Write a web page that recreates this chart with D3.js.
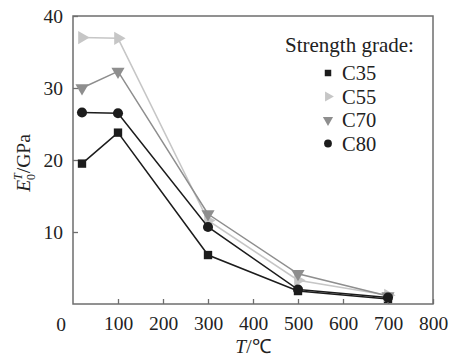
<!DOCTYPE html>
<html>
<head>
<meta charset="utf-8">
<script src="https://cdn.jsdelivr.net/npm/d3@7"></script>
</head>
<body style="margin:0;background:#fff">
<svg id="chart" width="450" height="358" font-family="Liberation Serif">
  <text id="legend-title" x="285" y="52" font-size="21" font-family="Liberation Serif" fill="#222">Strength grade:</text>
  <text id="x-title" x="253" y="353" font-size="19.5" font-family="Liberation Serif" fill="#222" text-anchor="middle"><tspan font-style="italic">T</tspan><tspan>/℃</tspan></text>
  <text id="y-title" transform="translate(30,163) rotate(-90)" font-size="19.5" font-family="Liberation Serif" fill="#222" text-anchor="middle"><tspan font-style="italic">E</tspan><tspan font-size="12" dy="5">0</tspan><tspan font-size="12" font-style="italic" dy="-13" dx="-6">T</tspan><tspan dy="8">/GPa</tspan></text>
</svg>
<script>
// Temperatures (°C) and elastic modulus E0T (GPa) per strength grade
const temps = [20, 100, 300, 500, 700];
const c35 = [19.5, 23.8, 6.8, 1.8, 0.7];
const c55 = [37.0, 36.9, 11.6, 3.3, 1.2];
const c70 = [30.0, 32.3, 12.5, 4.2, 1.1];
const c80 = [26.6, 26.5, 10.7, 2.0, 0.9];
const seriesNames = ["C35", "C55", "C70", "C80"];
const xTicks = [100, 200, 300, 400, 500, 600, 700, 800];
const yTicks = [10, 20, 30, 40];

const FONT = "Liberation Serif";
const TEXT_COLOR = "#222";
const svg = d3.select("#chart");
const mLeft = 73, mRight = 433, mTop = 16, mBottom = 304;

const x = d3.scaleLinear().domain([0, 800]).range([mLeft, mRight]);
const y = d3.scaleLinear().domain([0, 40]).range([mBottom, mTop]);

const axisColor = "#6e6e6e";

function label(sel, size) {
  return sel.attr("font-family", FONT).attr("font-size", size).attr("fill", TEXT_COLOR);
}

// frame
svg.insert("rect", ":first-child")
  .attr("x", mLeft).attr("y", mTop)
  .attr("width", mRight - mLeft).attr("height", mBottom - mTop)
  .attr("fill", "none").attr("stroke", axisColor).attr("stroke-width", 1.5);

// x axis (inward ticks)
const gx = svg.append("g").attr("transform", `translate(0,${mBottom})`)
  .call(d3.axisBottom(x).tickValues(xTicks).tickSizeInner(-5).tickSizeOuter(0).tickPadding(12));
gx.attr("font-family", FONT).attr("font-size", 19.5);
gx.select(".domain").remove();
gx.selectAll("line").attr("stroke", axisColor).attr("stroke-width", 1.3);
label(gx.selectAll("text"), 19.5);
label(svg.append("text"), 19.5).attr("x", 61).attr("y", mBottom + 27).attr("text-anchor", "middle").text("0");

// y axis (inward ticks)
const gy = svg.append("g").attr("transform", `translate(${mLeft},0)`)
  .call(d3.axisLeft(y).tickValues(yTicks).tickSizeInner(-5).tickSizeOuter(0).tickPadding(10));
gy.attr("font-family", FONT).attr("font-size", 19.5);
gy.select(".domain").remove();
gy.selectAll("line").attr("stroke", axisColor).attr("stroke-width", 1.3);
label(gy.selectAll("text"), 19.5);

// series
const series = [
  { name: "C35", values: c35, color: "#1c1c1c", symbol: d3.symbolSquare, size: 70, rot: 0 },
  { name: "C55", values: c55, color: "#c6c6c6", symbol: d3.symbolTriangle, size: 75, rot: 90 },
  { name: "C70", values: c70, color: "#8e8e8e", symbol: d3.symbolTriangle, size: 75, rot: 180 },
  { name: "C80", values: c80, color: "#1c1c1c", symbol: d3.symbolCircle, size: 80, rot: 0 }
];

const line = d3.line().x(d => x(d[0])).y(d => y(d[1]));

series.forEach(s => {
  const pts = temps.map((t, i) => [t, s.values[i]]);
  svg.append("path").datum(pts).attr("d", line)
    .attr("fill", "none").attr("stroke", s.color).attr("stroke-width", 1.5);
  svg.selectAll(null).data(pts).enter().append("path")
    .attr("d", d3.symbol().type(s.symbol).size(s.size))
    .attr("transform", d => `translate(${x(d[0])},${y(d[1])}) rotate(${s.rot})`)
    .attr("fill", s.color);
});

// legend entries
series.forEach((s, i) => {
  const ly = 73 + i * 23.5;
  svg.append("path")
    .attr("d", d3.symbol().type(s.symbol).size(s.size * 0.6))
    .attr("transform", `translate(328,${ly}) rotate(${s.rot})`)
    .attr("fill", s.color);
  label(svg.append("text"), 20.5).attr("x", 342).attr("y", ly + 7).text(seriesNames[i]);
});
</script>
</body>
</html>
